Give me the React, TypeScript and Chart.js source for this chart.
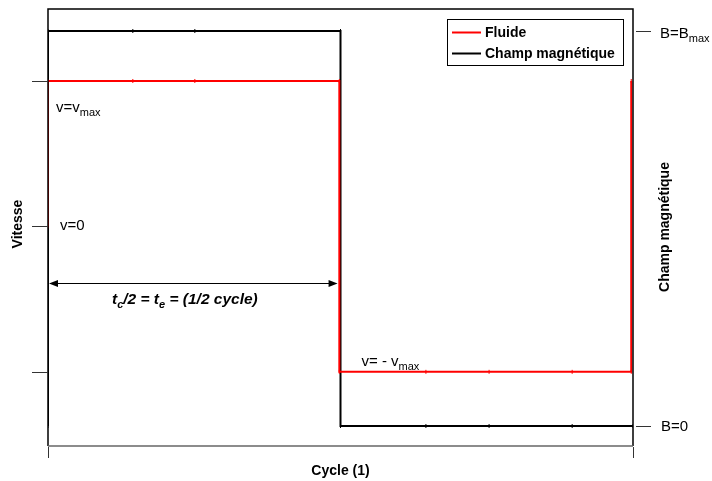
import React, { useEffect, useRef } from "react";
import { Chart, registerables } from "chart.js";

Chart.register(...registerables);

const fluidX = [0, 0, 0.145, 0.251, 0.498, 0.498, 0.646, 0.754, 0.896, 0.997, 0.997];
const fluidV = [0, 1, 1, 1, 1, -1, -1, -1, -1, -1, 1];
const fieldX = [0, 0, 0.145, 0.251, 0.5, 0.5, 0.646, 0.754, 0.896, 1];
const fieldB = [0, 1, 1, 1, 1, 0, 0, 0, 0, 0];

const seriesNames = ["Fluide", "Champ magnétique"];
const seriesColors = ["#ff0000", "#000000"];
const vTicks = [-1, 0, 1];
const bTicks = [0, 1];
const xTicks = [0, 1];
const xTitle = "Cycle (1)";
const vTitle = "Vitesse";
const bTitle = "Champ magnétique";

const FONT = "'Liberation Sans', Arial, sans-serif";

function drawSub(ctx: CanvasRenderingContext2D, parts: [string, boolean][], x: number, y: number, size: number, style = "") {
  let cx = x;
  for (const [t, sub] of parts) {
    ctx.font = `${style}${sub ? Math.round(size * 0.73) : size}px ${FONT}`;
    ctx.fillText(t, cx, sub ? y + 4 : y);
    cx += ctx.measureText(t).width;
  }
}

const decor = {
  id: "decor",
  afterDatasetsDraw(chart: any) {
    const ctx: CanvasRenderingContext2D = chart.ctx;
    const { left, right, top, bottom } = chart.chartArea;
    const xs = chart.scales.x;
    const ys = chart.scales.y;
    const bs = chart.scales.y1;
    ctx.save();
    // frame
    ctx.lineCap = "butt";
    ctx.strokeStyle = "#000";
    ctx.lineWidth = 1.5;
    ctx.beginPath();
    ctx.moveTo(left, bottom);
    ctx.lineTo(left, top);
    ctx.lineTo(right, top);
    ctx.lineTo(right, bottom);
    ctx.stroke();
    ctx.strokeStyle = "#666";
    ctx.beginPath();
    ctx.moveTo(left, bottom);
    ctx.lineTo(right, bottom);
    ctx.stroke();
    // ticks
    ctx.lineWidth = 1;
    ctx.strokeStyle = "#333";
    ctx.beginPath();
    for (const v of vTicks) {
      const y = Math.round(ys.getPixelForValue(v)) + 0.5;
      ctx.moveTo(left - 16, y);
      ctx.lineTo(left, y);
    }
    for (const b of bTicks) {
      const y = Math.round(bs.getPixelForValue(b)) + 0.5;
      ctx.moveTo(right + 3, y);
      ctx.lineTo(right + 18, y);
    }
    for (const t of xTicks) {
      const x = Math.round(xs.getPixelForValue(t)) + 0.5;
      ctx.moveTo(x, bottom + 1);
      ctx.lineTo(x, bottom + 12);
    }
    ctx.stroke();

    ctx.fillStyle = "#000";
    ctx.textBaseline = "alphabetic";
    ctx.textAlign = "left";
    // annotations
    const yMax = ys.getPixelForValue(1);
    const y0 = ys.getPixelForValue(0);
    const yMin = ys.getPixelForValue(-1);
    drawSub(ctx, [["v=v", false], ["max", true]], left + 8, yMax + 31, 15);
    drawSub(ctx, [["v=0", false]], left + 12, y0 + 4, 15);
    drawSub(ctx, [["v= - v", false], ["max", true]], xs.getPixelForValue(0.5) + 21, yMin - 6, 15);
    drawSub(ctx, [["B=B", false], ["max", true]], right + 27, bs.getPixelForValue(1) + 7, 15);
    drawSub(ctx, [["B=0", false]], right + 28, bs.getPixelForValue(0) + 5, 15);

    // double arrow for half cycle
    const ay = 283.5;
    const ax1 = xs.getPixelForValue(0) + 1;
    const ax2 = xs.getPixelForValue(0.495);
    ctx.strokeStyle = "#000";
    ctx.lineWidth = 1.2;
    ctx.beginPath();
    ctx.moveTo(ax1 + 6, ay);
    ctx.lineTo(ax2 - 6, ay);
    ctx.stroke();
    ctx.beginPath();
    ctx.moveTo(ax1, ay);
    ctx.lineTo(ax1 + 9, ay - 3.5);
    ctx.lineTo(ax1 + 9, ay + 3.5);
    ctx.closePath();
    ctx.moveTo(ax2, ay);
    ctx.lineTo(ax2 - 9, ay - 3.5);
    ctx.lineTo(ax2 - 9, ay + 3.5);
    ctx.closePath();
    ctx.fill();
    drawSub(ctx, [["t", false], ["c", true], ["/2 = t", false], ["e", true], [" = (1/2 cycle)", false]], 112, 304, 15.5, "italic bold ");

    // axis titles
    ctx.font = `bold 14px ${FONT}`;
    ctx.textAlign = "center";
    ctx.textBaseline = "middle";
    ctx.fillText(xTitle, (left + right) / 2, 471);
    ctx.save();
    ctx.translate(18, 224);
    ctx.rotate(-Math.PI / 2);
    ctx.fillText(vTitle, 0, 0);
    ctx.restore();
    ctx.save();
    ctx.translate(665, 227);
    ctx.rotate(-Math.PI / 2);
    ctx.fillText(bTitle, 0, 0);
    ctx.restore();

    // legend
    ctx.fillStyle = "#fff";
    ctx.fillRect(447, 19, 176, 46);
    ctx.strokeStyle = "#000";
    ctx.lineWidth = 1;
    ctx.strokeRect(447.5, 19.5, 176, 46);
    ctx.textAlign = "left";
    ctx.textBaseline = "middle";
    ctx.font = `bold 14px ${FONT}`;
    seriesNames.forEach((n, i) => {
      const y = 32 + i * 21;
      ctx.strokeStyle = seriesColors[i];
      ctx.lineWidth = 2;
      ctx.beginPath();
      ctx.moveTo(452, y + 0.5);
      ctx.lineTo(481, y + 0.5);
      ctx.stroke();
      ctx.fillStyle = "#000";
      ctx.fillText(n, 485, y + 1);
    });
    ctx.restore();
  },
};

export default function App() {
  const ref = useRef<HTMLCanvasElement>(null);
  useEffect(() => {
    const chart = new Chart(ref.current!, {
      type: "line",
      data: {
        datasets: [
          {
            label: seriesNames[1],
            data: fieldX.map((x, i) => ({ x, y: fieldB[i] })),
            yAxisID: "y1",
            borderColor: seriesColors[1],
            backgroundColor: seriesColors[1],
            borderWidth: 2,
            pointStyle: "line",
            rotation: 90,
            pointRadius: 2,
            pointBorderWidth: 1,
            tension: 0,
            order: 2,
          },
          {
            label: seriesNames[0],
            data: fluidX.map((x, i) => ({ x, y: fluidV[i] })),
            yAxisID: "y",
            borderColor: seriesColors[0],
            backgroundColor: seriesColors[0],
            borderWidth: 2,
            pointStyle: "line",
            rotation: 90,
            pointRadius: 2,
            pointBorderWidth: 1,
            tension: 0,
            order: 1,
          },
        ],
      },
      options: {
        animation: false,
        responsive: false,
        maintainAspectRatio: false,
        layout: { padding: { left: 48, right: 79, top: 9, bottom: 35 } },
        plugins: { legend: { display: false }, tooltip: { enabled: false } },
        scales: {
          x: { type: "linear", min: 0, max: 1, display: false },
          y: { type: "linear", min: -1.51, max: 1.495, display: false },
          y1: { type: "linear", min: -0.0506, max: 1.0557, display: false, position: "right" },
        },
      },
      plugins: [decor],
    });
    return () => chart.destroy();
  }, []);
  return (
    <div style={{ position: "absolute", left: 0, top: 0, width: 712, height: 481, background: "#fff" }}>
      <canvas ref={ref} width={712} height={481} style={{ display: "block" }} />
    </div>
  );
}
